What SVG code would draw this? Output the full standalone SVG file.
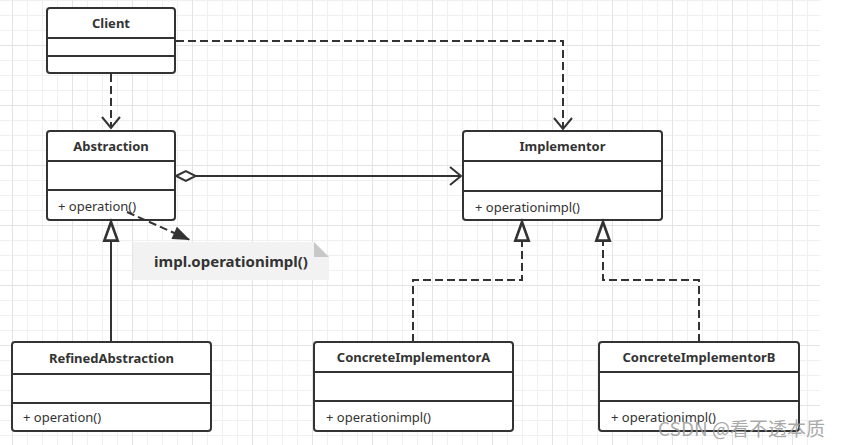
<svg xmlns="http://www.w3.org/2000/svg" width="846" height="445" viewBox="0 0 846 445">
  <style>
    .box { fill: #ffffff; stroke: #333333; stroke-width: 2; }
    .div { stroke: #333333; stroke-width: 2; }
    .title { font-family: "Noto Sans", "Liberation Sans", sans-serif; font-size: 13px; font-weight: bold; fill: #333333; text-anchor: middle; }
    .meth { font-family: "Noto Sans", "Liberation Sans", sans-serif; font-size: 13px; fill: #333333; }
    .line { fill: none; stroke: #333333; stroke-width: 2; }
    .dash { stroke-dasharray: 8 4; }
  </style>
  <defs>
    <pattern id="minor" patternUnits="userSpaceOnUse" x="12" y="0" width="15" height="15">
      <path d="M0.5,0 V15 M0,0.5 H15" stroke="#f0f0f0" stroke-width="1" fill="none"/>
    </pattern>
    <pattern id="major" patternUnits="userSpaceOnUse" x="12" y="45" width="60" height="60">
      <path d="M0.5,0 V60 M0,0.5 H60" stroke="#e4e4e4" stroke-width="1" fill="none"/>
    </pattern>
    <marker id="open" markerUnits="userSpaceOnUse" markerWidth="24" markerHeight="24" refX="0" refY="0" viewBox="-14 -12 16 24" orient="auto" overflow="visible">
      <path d="M-11,-9 L0,0 L-11,9" fill="none" stroke="#333333" stroke-width="2"/>
    </marker>
    <marker id="hollow" markerUnits="userSpaceOnUse" markerWidth="24" markerHeight="24" refX="0" refY="0" viewBox="-16 -8 18 16" orient="auto" overflow="visible">
      <path d="M0,0 L-14,-5 L-14,5 Z" fill="#ffffff" stroke="#333333" stroke-width="2"/>
    </marker>
    <marker id="filled" markerUnits="userSpaceOnUse" markerWidth="24" markerHeight="24" refX="0" refY="0" viewBox="-16 -8 18 16" orient="auto" overflow="visible">
      <path d="M0,0 L-13,-5 L-13,5 Z" fill="#333333" stroke="none"/>
    </marker>
    <marker id="diamond" markerUnits="userSpaceOnUse" markerWidth="24" markerHeight="24" refX="0" refY="0" viewBox="-2 -8 22 16" orient="auto" overflow="visible">
      <path d="M0,0 L9,-4.5 L18,0 L9,4.5 Z" fill="#ffffff" stroke="#333333" stroke-width="1.8"/>
    </marker>
  </defs>

  <rect x="0" y="0" width="846" height="445" fill="#ffffff"/>
  <rect x="0" y="0" width="820" height="445" fill="url(#minor)"/>
  <rect x="0" y="0" width="820" height="445" fill="url(#major)"/>

  <g id="Client">
    <rect class="box" x="47" y="8" width="128" height="65" rx="3"/>
    <line class="div" x1="47" y1="38" x2="175" y2="38"/>
    <line class="div" x1="47" y1="56" x2="175" y2="56"/>
    <text class="title" x="111" y="27.5">Client</text>
  </g>

  <g id="Abstraction">
    <rect class="box" x="47" y="131" width="128" height="89" rx="3"/>
    <line class="div" x1="47" y1="161" x2="175" y2="161"/>
    <line class="div" x1="47" y1="190" x2="175" y2="190"/>
    <text class="title" x="111" y="150.5">Abstraction</text>
    <text class="meth" x="58" y="210.5">+ operation()</text>
  </g>

  <g id="Implementor">
    <rect class="box" x="463" y="131" width="199" height="89" rx="3"/>
    <line class="div" x1="463" y1="161" x2="662" y2="161"/>
    <line class="div" x1="463" y1="191" x2="662" y2="191"/>
    <text class="title" x="562.5" y="150.5">Implementor</text>
    <text class="meth" x="475" y="211.5">+ operationimpl()</text>
  </g>

  <g id="RefinedAbstraction">
    <rect class="box" x="12" y="342" width="199" height="89" rx="3"/>
    <line class="div" x1="12" y1="374" x2="211" y2="374"/>
    <line class="div" x1="12" y1="403" x2="211" y2="403"/>
    <text class="title" x="111.5" y="362.5">RefinedAbstraction</text>
    <text class="meth" x="23" y="422">+ operation()</text>
  </g>

  <g id="ConcreteImplementorA">
    <rect class="box" x="314" y="342" width="199" height="89" rx="3"/>
    <line class="div" x1="314" y1="372" x2="513" y2="372"/>
    <line class="div" x1="314" y1="401" x2="513" y2="401"/>
    <text class="title" x="413.5" y="361.5">ConcreteImplementorA</text>
    <text class="meth" x="326" y="421.5">+ operationimpl()</text>
  </g>

  <g id="ConcreteImplementorB">
    <rect class="box" x="599" y="342" width="200" height="89" rx="3"/>
    <line class="div" x1="599" y1="372" x2="799" y2="372"/>
    <line class="div" x1="599" y1="401" x2="799" y2="401"/>
    <text class="title" x="699" y="361.5">ConcreteImplementorB</text>
    <text class="meth" x="611" y="421.5">+ operationimpl()</text>
  </g>

  <g id="Note">
    <polygon points="133,242 314,242 329,257 329,280 133,280" fill="#f2f2f2"/>
    <polygon points="314,242 314,257 329,257" fill="#c8c8c8"/>
    <text x="231" y="267" font-family="'Noto Sans', 'Liberation Sans', sans-serif" font-size="15" font-weight="bold" fill="#333333" text-anchor="middle">impl.operationimpl()</text>
  </g>

  <g id="connectors">
    <path class="line dash" d="M111,74 V128" marker-end="url(#open)"/>
    <path class="line dash" d="M176,41 H563 V129" marker-end="url(#open)"/>
    <path class="line" d="M176,176 H461" marker-start="url(#diamond)" marker-end="url(#open)"/>
    <path class="line dash" d="M127,212 L190,240" marker-end="url(#filled)"/>
    <path class="line" d="M111,342 V222" marker-end="url(#hollow)"/>
    <path class="line dash" d="M413,342 V280 H522 V222" marker-end="url(#hollow)"/>
    <path class="line dash" d="M699,342 V280 H603 V222" marker-end="url(#hollow)"/>
  </g>

  <text x="658" y="436" font-family="'Noto Sans CJK SC', 'Noto Sans', sans-serif" font-size="19" fill="#9a9a9a" fill-opacity="0.85">CSDN @看不透本质</text>
</svg>
